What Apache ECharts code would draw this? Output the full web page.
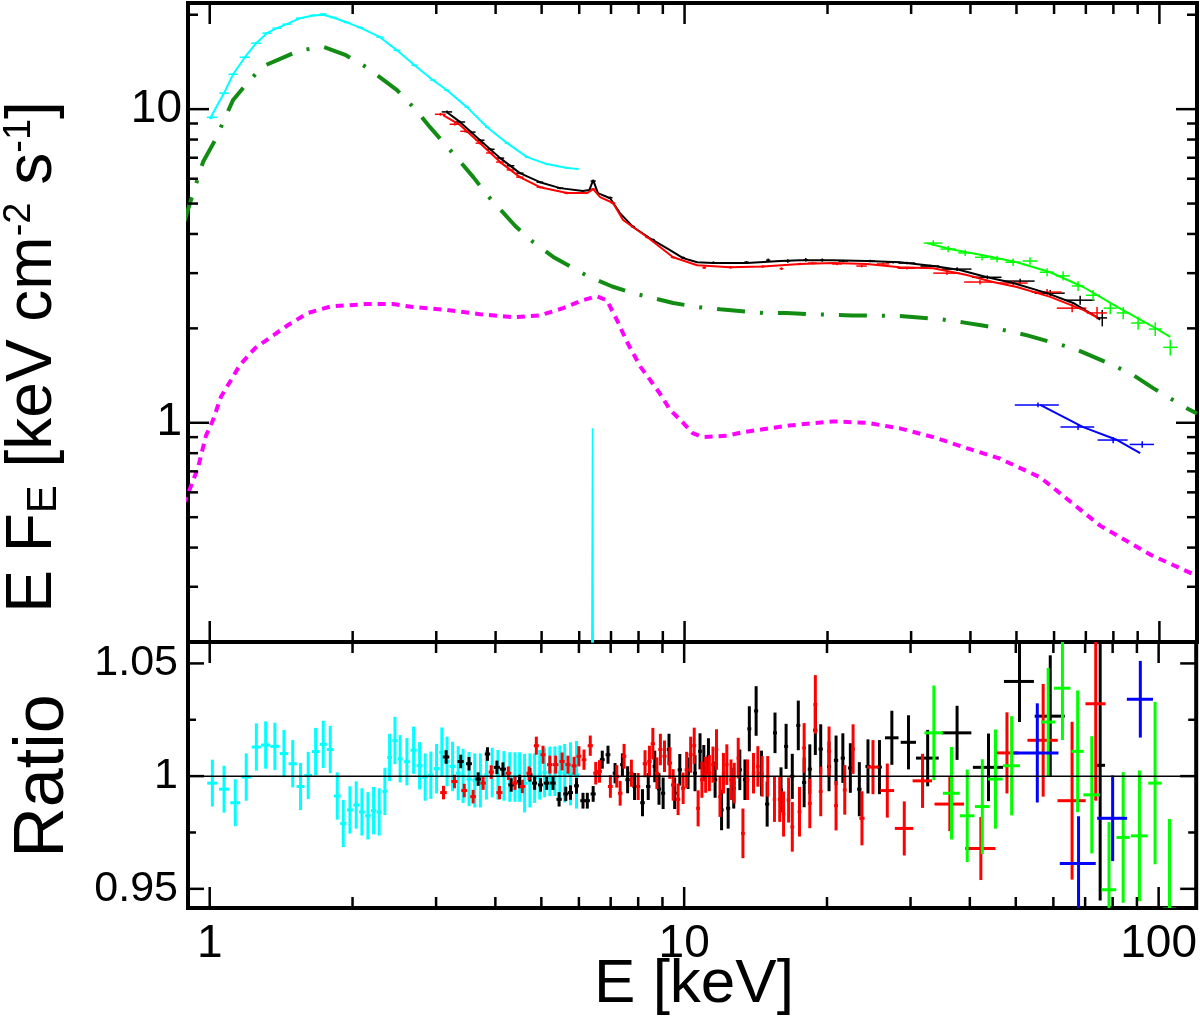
<!DOCTYPE html>
<html>
<head>
<meta charset="utf-8">
<script src="https://cdn.jsdelivr.net/npm/echarts@6.0.0/dist/echarts.min.js"></script>
<style>
html, body { margin: 0; padding: 0; background: #fff; }
#main { width: 1200px; height: 1020px; }
</style>
</head>
<body>
<div id="main"></div>
<script>
var FONT = 'Liberation Sans, Arial, Helvetica, sans-serif';

// tick values
var xMajor = [1, 10, 100];
var xMinor = [2, 3, 4, 5, 6, 7, 8, 9, 20, 30, 40, 50, 60, 70, 80, 90];
var yMajorTop = [1, 10];
var yMinorTop = [0.3, 0.4, 0.5, 0.6, 0.7, 0.8, 0.9, 2, 3, 4, 5, 6, 7, 8, 9, 20];
var yMajorRatio = [0.95, 1, 1.05];
var yMinorRatio = [0.975, 1.025];

// model curves  [E keV, E F_E]
var reflModel = [[0.88, 0.55], [0.909, 0.617], [0.945, 0.72], [0.982, 0.91], [1.016, 1.02], [1.056, 1.21], [1.109, 1.37],
  [1.158, 1.53], [1.246, 1.73], [1.347, 1.88], [1.462, 2.05], [1.61, 2.24], [1.8, 2.35], [2.13, 2.39], [2.43, 2.39],
  [2.68, 2.34], [3.16, 2.29], [3.71, 2.22], [4.36, 2.17], [4.96, 2.20], [5.55, 2.32], [6.11, 2.46], [6.53, 2.53],
  [6.86, 2.46], [7.21, 2.12], [7.58, 1.80], [8.07, 1.51], [8.46, 1.37], [8.87, 1.24], [9.32, 1.10], [9.93, 1.0],
  [10.4, 0.927], [10.9, 0.90], [12.3, 0.91], [13.3, 0.934], [16.6, 0.98], [20.5, 1.01], [24.2, 1.0], [28.4, 0.96],
  [33.4, 0.90], [39.3, 0.83], [46.0, 0.77], [56.1, 0.67], [75.0, 0.47], [95.6, 0.38], [120, 0.325]];

var contModel = [[0.88, 4.3], [0.968, 6.78], [1.026, 7.96], [1.12, 10.7], [1.199, 12.1], [1.295, 13.7], [1.427, 14.6],
  [1.549, 15.4], [1.733, 15.8], [1.928, 14.9], [2.14, 13.6], [2.48, 11.5], [2.71, 9.99], [2.91, 8.76], [3.32, 6.98],
  [3.59, 6.07], [3.84, 5.32], [4.40, 4.24], [4.80, 3.77], [5.29, 3.38], [6.26, 2.93], [7.04, 2.72], [7.79, 2.59],
  [9.46, 2.41], [10.63, 2.34], [11.88, 2.30], [14.63, 2.24], [16.4, 2.24], [18.4, 2.22], [22.5, 2.20], [28.4, 2.19],
  [34.5, 2.14], [38.6, 2.09], [43.4, 2.03], [52.7, 1.90], [58.9, 1.81], [65.8, 1.73], [79.6, 1.53], [88.1, 1.42],
  [97.0, 1.29], [115, 1.106], [120, 1.07]];

var cyanLine = [[6.36, 0.05], [6.40, 0.96], [6.44, 0.05]];

var cyanModel = [[1.0, 9.3], [1.072, 11.25], [1.12, 12.92], [1.186, 14.64], [1.252, 16.23], [1.32, 17.47], [1.385, 18.12],
  [1.453, 18.66], [1.549, 19.5], [1.651, 19.9], [1.733, 20.0], [1.82, 19.6], [1.946, 18.9], [2.073, 18.2], [2.284, 16.96],
  [2.48, 15.4], [2.7, 13.8], [2.953, 12.37], [3.16, 11.49], [3.48, 10.15], [3.84, 8.76], [4.23, 7.79], [4.66, 7.03],
  [5.13, 6.68], [5.66, 6.49], [5.94, 6.45]];

var blackModel = [[3.16, 9.78], [3.37, 9.09], [3.71, 7.96], [4.09, 6.98], [4.50, 6.25], [4.96, 5.85], [5.47, 5.60],
  [6.11, 5.48], [6.30, 5.52], [6.42, 5.94], [6.57, 5.40], [6.97, 5.20], [7.31, 4.66], [7.79, 4.21], [8.58, 3.82],
  [9.32, 3.55], [9.93, 3.35], [10.63, 3.25], [11.48, 3.23], [13.54, 3.23], [15.9, 3.28], [17.5, 3.30], [20.55, 3.30],
  [24.2, 3.28], [28.4, 3.25], [33.4, 3.16], [38.0, 3.07], [43.4, 2.91], [49.2, 2.79], [58.0, 2.59], [65.8, 2.41],
  [73.9, 2.17], [75.0, 2.13]];

var redModel = [[3.10, 9.57], [3.37, 8.89], [3.71, 7.79], [4.09, 6.78], [4.50, 6.07], [4.96, 5.64], [5.66, 5.40],
  [6.23, 5.40], [6.42, 5.56], [6.64, 5.24], [7.07, 5.02], [7.42, 4.43], [8.34, 3.91], [9.46, 3.37], [10.63, 3.18],
  [12.47, 3.13], [14.63, 3.15], [17.5, 3.21], [20.55, 3.23], [24.2, 3.21], [28.4, 3.13], [33.4, 3.11], [39.3, 2.96],
  [44.6, 2.81], [50.1, 2.71], [58.9, 2.52], [69.1, 2.29], [73.9, 2.17]];

var greenModel = [[32.4, 3.74], [36.2, 3.58], [42.5, 3.42], [50.1, 3.25], [58.9, 3.02], [69.1, 2.71], [81.5, 2.34],
  [95.6, 2.05], [105.4, 1.88]];

var blueModel = [[56.1, 1.14], [69.1, 0.969], [81.5, 0.881], [91.1, 0.80]];

// spectral data  [E, E F_E, dE, dF]
var cyanData = [[1.011, 9.42, 0.025, 0.1], [1.072, 11.25, 0.025, 0.1], [1.12, 12.92, 0.025, 0.1], [1.186, 14.64, 0.03, 0.1],
  [1.252, 16.23, 0.03, 0.1], [1.32, 17.47, 0.03, 0.1], [1.385, 18.12, 0.03, 0.1], [1.453, 18.66, 0.03, 0.1],
  [1.549, 19.5, 0.03, 0.1], [1.651, 19.9, 0.03, 0.1], [1.733, 20.1, 0.03, 0.1], [1.82, 19.6, 0.03, 0.1],
  [1.946, 18.9, 0.03, 0.1], [2.073, 18.2, 0.03, 0.1], [2.284, 16.96, 0.04, 0.1], [2.48, 15.4, 0.04, 0.1],
  [2.7, 13.8, 0.04, 0.1], [2.953, 12.37, 0.04, 0.08], [3.16, 11.49, 0.04, 0.08], [3.48, 10.15, 0.04, 0.07],
  [3.84, 8.76, 0.04, 0.06], [4.23, 7.79, 0.05, 0.05], [4.66, 7.03, 0.05, 0.05], [5.13, 6.68, 0.05, 0.05],
  [5.66, 6.49, 0.06, 0.05], [5.94, 6.45, 0.06, 0.05]];

var blackData = [[3.16, 9.80, 0.08, 0.1], [3.37, 9.10, 0.08, 0.08], [3.55, 8.45, 0.08, 0.08], [3.71, 7.96, 0.08, 0.07],
  [3.90, 7.45, 0.08, 0.06], [4.09, 6.98, 0.08, 0.06], [4.30, 6.60, 0.08, 0.05], [4.50, 6.25, 0.08, 0.05],
  [4.96, 5.85, 0.08, 0.05], [5.47, 5.60, 0.08, 0.05], [6.42, 5.90, 0.08, 0.05], [6.97, 5.22, 0.08, 0.05],
  [7.79, 4.22, 0.08, 0.04], [8.58, 3.83, 0.08, 0.04], [9.93, 3.36, 0.1, 0.03], [11.5, 3.24, 0.1, 0.03],
  [13.5, 3.25, 0.15, 0.03], [15.0, 3.30, 0.15, 0.04], [16.5, 3.28, 0.2, 0.04], [18.0, 3.31, 0.2, 0.04],
  [19.5, 3.30, 0.2, 0.04], [21.6, 3.28, 0.5, 0.03], [24.6, 3.28, 0.6, 0.03], [27.5, 3.25, 0.9, 0.03],
  [29.4, 3.23, 1.2, 0.03], [32.9, 3.16, 1.5, 0.03], [37.5, 3.09, 2.7, 0.04], [43.4, 2.91, 3.1, 0.04],
  [50.9, 2.83, 3.7, 0.05], [58.9, 2.59, 4.3, 0.06], [68.1, 2.46, 4.9, 0.08], [75.8, 2.16, 1.8, 0.13]];

var redData = [[3.06, 9.63, 0.08, 0.1], [3.28, 8.95, 0.08, 0.08], [3.45, 8.50, 0.08, 0.08], [3.71, 7.79, 0.08, 0.07],
  [3.90, 7.25, 0.08, 0.06], [4.09, 6.78, 0.08, 0.06], [4.30, 6.40, 0.08, 0.05], [4.50, 6.07, 0.08, 0.05],
  [4.96, 5.64, 0.08, 0.05], [5.66, 5.40, 0.08, 0.05], [6.42, 5.56, 0.08, 0.05], [7.07, 5.02, 0.08, 0.05],
  [8.34, 3.91, 0.08, 0.04], [9.46, 3.37, 0.1, 0.03], [11.0, 3.12, 0.1, 0.03], [12.5, 3.13, 0.12, 0.03],
  [14.6, 3.15, 0.15, 0.03], [16.0, 3.10, 0.15, 0.03], [17.5, 3.21, 0.2, 0.03], [18.6, 3.23, 0.4, 0.03],
  [20.96, 3.21, 0.5, 0.03], [23.6, 3.16, 0.6, 0.03], [26.2, 3.21, 0.8, 0.03], [29.4, 3.11, 1.3, 0.03],
  [35.7, 3.00, 2.3, 0.04], [41.9, 2.81, 3.1, 0.05], [49.2, 2.79, 3.6, 0.05], [58.0, 2.61, 4.2, 0.06],
  [65.5, 2.32, 4.7, 0.07], [73.9, 2.24, 3.6, 0.1]];

var greenData = [[33.4, 3.74, 1.5, 0.08], [35.9, 3.58, 1.3, 0.08], [39.0, 3.48, 1.3, 0.08], [42.3, 3.37, 1.4, 0.08],
  [45.5, 3.33, 1.5, 0.08], [49.2, 3.25, 1.8, 0.09], [53.4, 3.28, 1.9, 0.09], [58.0, 3.02, 2.0, 0.09],
  [62.7, 2.94, 2.1, 0.1], [67.4, 2.73, 2.0, 0.1], [72.5, 2.55, 2.5, 0.1], [78.8, 2.32, 2.5, 0.1],
  [83.9, 2.24, 2.6, 0.1], [90.2, 2.08, 3.0, 0.1], [98.0, 1.99, 3.0, 0.1], [105.4, 1.74, 3.5, 0.1]];

var blueData = [[55.5, 1.14, 5.9, 0.02], [67.4, 0.969, 5.5, 0.02], [79.9, 0.881, 5.8, 0.02], [92.0, 0.853, 5.4, 0.02]];

// ratio data  [E, ratio, dE, dRatio]
var cyanRatio = [[1.013, 0.9969, 0.025, 0.0104], [1.072, 0.9942, 0.026, 0.0104], [1.132, 0.9882, 0.027, 0.0104],
  [1.194, 0.9996, 0.028, 0.0105], [1.254, 1.0129, 0.028, 0.0105], [1.312, 1.0138, 0.029, 0.0105],
  [1.372, 1.0132, 0.03, 0.0105], [1.434, 1.0100, 0.03, 0.0105], [1.496, 1.0055, 0.03, 0.0105],
  [1.554, 0.9954, 0.03, 0.0105], [1.613, 1.0003, 0.03, 0.0105], [1.672, 1.0109, 0.03, 0.0105],
  [1.735, 1.0141, 0.03, 0.0105], [1.795, 1.0118, 0.03, 0.0105], [1.857, 0.9912, 0.03, 0.0105],
  [1.912, 0.9790, 0.028, 0.0105], [1.975, 0.9850, 0.028, 0.0105], [2.036, 0.9872, 0.028, 0.0105],
  [2.093, 0.9841, 0.028, 0.0105], [2.155, 0.9824, 0.028, 0.0105], [2.215, 0.9847, 0.028, 0.0105],
  [2.276, 0.9841, 0.028, 0.0105], [2.34, 0.9932, 0.028, 0.0105], [2.394, 1.0083, 0.028, 0.0105],
  [2.457, 1.0158, 0.03, 0.0105], [2.52, 1.0077, 0.03, 0.0105], [2.604, 1.0064, 0.04, 0.0105],
  [2.69, 1.0115, 0.04, 0.0105], [2.769, 1.0046, 0.04, 0.0105], [2.845, 0.9996, 0.04, 0.0105],
  [2.925, 1.0004, 0.04, 0.0105], [3.007, 1.0033, 0.04, 0.011], [3.085, 1.0106, 0.04, 0.011],
  [3.164, 1.0065, 0.04, 0.011], [3.25, 1.0043, 0.04, 0.011], [3.34, 1.0013, 0.04, 0.012],
  [3.42, 1.0001, 0.04, 0.012], [3.52, 0.9987, 0.04, 0.012], [3.62, 0.9981, 0.04, 0.012],
  [3.72, 0.9981, 0.04, 0.012], [3.83, 1.0006, 0.04, 0.011], [3.94, 1.0016, 0.04, 0.011],
  [4.05, 1.0006, 0.04, 0.011], [4.17, 1.0001, 0.04, 0.011], [4.29, 0.9996, 0.05, 0.011],
  [4.40, 0.9996, 0.05, 0.011], [4.50, 0.9996, 0.05, 0.011], [4.61, 0.9969, 0.05, 0.013],
  [4.73, 0.9981, 0.05, 0.012], [4.84, 0.9991, 0.05, 0.011], [4.96, 1.0006, 0.05, 0.011],
  [5.08, 1.0016, 0.05, 0.011], [5.21, 1.0021, 0.05, 0.011], [5.34, 1.0022, 0.05, 0.011],
  [5.47, 1.0016, 0.06, 0.012], [5.60, 1.0013, 0.06, 0.013], [5.76, 1.001, 0.07, 0.014],
  [5.93, 1.0006, 0.07, 0.015]];

var blackRatio = [[3.15, 1.0085, 0.05, 0.003], [3.38, 1.0065, 0.05, 0.003], [3.52, 1.0055, 0.05, 0.003],
  [3.68, 0.9987, 0.05, 0.003], [3.85, 1.0098, 0.05, 0.003], [4.03, 1.0039, 0.06, 0.003], [4.15, 1.0031, 0.06, 0.003],
  [4.32, 0.9961, 0.06, 0.003], [4.50, 0.9976, 0.06, 0.003], [4.73, 1.0006, 0.06, 0.003], [4.84, 0.9969, 0.06, 0.003],
  [4.98, 0.9961, 0.06, 0.003], [5.13, 0.9969, 0.07, 0.003], [5.29, 0.9969, 0.07, 0.003], [5.45, 0.9897, 0.07, 0.0032],
  [5.63, 0.9921, 0.07, 0.0032], [5.76, 0.9927, 0.07, 0.0032], [5.93, 0.9957, 0.07, 0.0035], [6.12, 0.9891, 0.08, 0.0035],
  [6.25, 0.9891, 0.08, 0.0035], [6.43, 0.9921, 0.08, 0.0035], [6.72, 1.0073, 0.08, 0.004], [6.91, 1.0095, 0.08, 0.004],
  [7.15, 1.0013, 0.08, 0.0045], [7.41, 1.0051, 0.08, 0.005], [7.60, 0.9984, 0.08, 0.006], [7.86, 0.9954, 0.08, 0.006],
  [8.17, 0.9882, 0.09, 0.006], [8.40, 0.9954, 0.09, 0.006], [8.67, 1.0043, 0.09, 0.007], [8.85, 0.9943, 0.09, 0.007],
  [9.03, 0.9924, 0.09, 0.007], [9.29, 1.0118, 0.1, 0.007], [9.55, 0.9924, 0.1, 0.007], [9.79, 1.0028, 0.1, 0.007],
  [10.19, 1.0013, 0.1, 0.007], [10.54, 1.0013, 0.1, 0.008], [10.80, 1.0110, 0.1, 0.008], [11.0, 1.0058, 0.1, 0.008],
  [11.25, 1.0088, 0.1, 0.008], [11.62, 0.9984, 0.12, 0.008], [11.99, 0.985, 0.12, 0.009], [12.38, 0.9857, 0.12, 0.009],
  [12.72, 0.9946, 0.12, 0.009], [13.1, 1.0028, 0.13, 0.009], [13.43, 0.9984, 0.13, 0.009], [13.72, 1.021, 0.13, 0.01],
  [14.18, 1.0289, 0.14, 0.011], [14.55, 1.0013, 0.14, 0.01], [14.96, 0.9876, 0.15, 0.01], [15.54, 1.0192, 0.15, 0.009],
  [16.0, 0.9939, 0.16, 0.01], [16.4, 1.0132, 0.16, 0.01], [16.9, 0.9999, 0.17, 0.01], [17.4, 1.0225, 0.17, 0.011],
  [17.9, 0.9972, 0.18, 0.011], [18.4, 1.0031, 0.18, 0.011], [18.9, 1.0204, 0.19, 0.011], [19.4, 1.012, 0.2, 0.011],
  [20.2, 1.0043, 0.2, 0.011], [20.9, 1.007, 0.22, 0.011], [21.6, 1.008, 0.22, 0.011], [22.4, 1.0036, 0.25, 0.011],
  [23.4, 0.9942, 0.25, 0.012], [24.4, 1.0043, 0.3, 0.012], [25.8, 1.004, 0.3, 0.012], [27.4, 1.017, 0.9, 0.012],
  [29.7, 1.015, 1.1, 0.012], [32.6, 1.008, 1.8, 0.0125], [37.6, 1.0192, 2.7, 0.012], [43.8, 1.0039, 3.2, 0.015],
  [50.9, 1.042, 3.7, 0.018], [59.1, 1.0266, 4.3, 0.027], [75.3, 1.0048, 1.8, 0.06]];

var redRatio = [[3.11, 0.9927, 0.05, 0.003], [3.28, 0.9976, 0.05, 0.003], [3.44, 0.9936, 0.05, 0.003],
  [3.59, 0.9909, 0.05, 0.003], [3.77, 0.9969, 0.05, 0.003], [3.92, 1.0018, 0.05, 0.003], [4.08, 0.9927, 0.06, 0.003],
  [4.26, 1.0013, 0.06, 0.003], [4.40, 0.9969, 0.06, 0.003], [4.56, 0.9954, 0.06, 0.003], [4.71, 1.0013, 0.06, 0.003],
  [4.88, 1.0135, 0.06, 0.004], [5.04, 1.0095, 0.06, 0.004], [5.21, 1.0051, 0.07, 0.004], [5.36, 1.0051, 0.07, 0.004],
  [5.53, 1.0065, 0.07, 0.004], [5.69, 1.0051, 0.07, 0.004], [5.86, 1.0046, 0.07, 0.004], [6.00, 1.0088, 0.07, 0.0045],
  [6.15, 1.0073, 0.07, 0.0045], [6.34, 1.0135, 0.08, 0.0045], [6.51, 1.0013, 0.08, 0.005], [6.63, 1.0021, 0.08, 0.005],
  [6.99, 0.9954, 0.08, 0.005], [7.21, 0.9999, 0.08, 0.005], [7.33, 0.9924, 0.08, 0.0055], [7.47, 1.0088, 0.08, 0.0055],
  [7.74, 1.0013, 0.08, 0.006], [8.0, 0.9954, 0.08, 0.006], [8.27, 1.0055, 0.09, 0.006], [8.45, 1.0065, 0.09, 0.007],
  [8.59, 1.0144, 0.09, 0.007], [8.76, 1.0013, 0.09, 0.007], [8.91, 1.0118, 0.09, 0.007], [9.09, 1.0088, 0.09, 0.007],
  [9.33, 1.0058, 0.1, 0.007], [9.48, 0.9961, 0.1, 0.007], [9.71, 0.9897, 0.1, 0.007], [9.95, 0.9946, 0.1, 0.007],
  [10.12, 1.0028, 0.1, 0.008], [10.32, 1.0095, 0.1, 0.008], [10.5, 1.0135, 0.1, 0.008], [10.7, 0.9857, 0.1, 0.008],
  [10.9, 0.9984, 0.1, 0.008], [11.1, 1.0006, 0.1, 0.008], [11.3, 1.0013, 0.1, 0.008], [11.5, 1.0051, 0.1, 0.008],
  [11.7, 1.0118, 0.1, 0.009], [11.9, 0.9909, 0.1, 0.009], [12.1, 1.0013, 0.1, 0.009], [12.3, 1.0051, 0.1, 0.009],
  [12.55, 0.9984, 0.1, 0.009], [12.75, 0.9969, 0.1, 0.009], [13.0, 1.008, 0.1, 0.009], [13.3, 0.9746, 0.12, 0.011],
  [13.6, 0.9984, 0.12, 0.009], [14.0, 1.0013, 0.12, 0.009], [14.3, 1.0043, 0.12, 0.009], [14.6, 0.9999, 0.12, 0.009],
  [15.0, 0.9999, 0.13, 0.009], [15.5, 0.9897, 0.13, 0.01], [15.9, 0.9897, 0.14, 0.01], [16.2, 0.9832, 0.14, 0.01],
  [16.6, 0.9894, 0.15, 0.01], [16.9, 0.9775, 0.15, 0.011], [17.5, 0.9842, 0.16, 0.011], [17.9, 1.0125, 0.16, 0.011],
  [18.4, 0.9879, 0.17, 0.011], [18.9, 1.0318, 0.17, 0.013], [19.4, 0.9932, 0.18, 0.011], [20.2, 1.011, 0.2, 0.011],
  [20.9, 0.9869, 0.2, 0.011], [21.8, 0.9939, 0.2, 0.011], [22.7, 1.012, 0.2, 0.011], [23.7, 0.9813, 0.3, 0.012],
  [25.0, 1.004, 0.7, 0.012], [26.8, 0.9936, 0.9, 0.012], [29.1, 0.9768, 1.3, 0.012], [31.8, 0.9979, 1.5, 0.012],
  [36.3, 0.9876, 2.6, 0.012], [42.2, 0.9679, 3.1, 0.014], [47.9, 1.0103, 2.8, 0.018], [57.1, 1.0159, 4.2, 0.025],
  [65.7, 0.9891, 4.5, 0.035], [73.7, 1.0321, 3.6, 0.043]];

var greenRatio = [[33.6, 1.0192, 1.5, 0.021], [36.6, 0.9924, 1.5, 0.0205], [39.5, 0.9824, 1.4, 0.0205],
  [42.5, 0.9865, 1.5, 0.021], [45.3, 0.9987, 1.6, 0.022], [49.0, 1.0046, 2.0, 0.022], [58.5, 1.024, 2.0, 0.024],
  [62.7, 1.039, 2.5, 0.023], [67.5, 1.011, 2.0, 0.027], [72.3, 0.9917, 2.9, 0.026], [78.6, 0.9496, 2.8, 0.03],
  [84.2, 0.9728, 2.7, 0.029], [91.1, 0.9735, 3.7, 0.029], [98.3, 0.9969, 3.2, 0.036], [105.4, 0.941, 3.4, 0.04]];

var blueRatio = [[55.5, 1.0103, 6.0, 0.022], [67.8, 0.9612, 5.9, 0.021], [80.0, 0.9813, 5.8, 0.019],
  [91.5, 1.0341, 5.8, 0.017]];

var unity = [[0.9, 1], [120, 1]];

var myChart = echarts.init(document.getElementById('main'));

function modelLine(data, color, width, type) {
    return {
        type: 'line', xAxisIndex: 0, yAxisIndex: 0, data: data,
        showSymbol: false, symbol: 'none', silent: true, clip: true,
        lineStyle: { color: color, width: width, type: type || 'solid', cap: 'butt' }
    };
}

// error-bar crosses: [x, y, dx, dy]
function crosses(data, color, width, gi) {
    return {
        type: 'custom', xAxisIndex: gi, yAxisIndex: gi, data: data, clip: true, silent: true,
        encode: { x: 0, y: 1 },
        renderItem: function (params, api) {
            var x = api.value(0), y = api.value(1), dx = api.value(2), dy = api.value(3);
            var a = api.coord([x - dx, y]), b = api.coord([x + dx, y]);
            var c = api.coord([x, y - dy]), d = api.coord([x, y + dy]);
            var st = { stroke: color, lineWidth: width };
            return {
                type: 'group', children: [
                    { type: 'line', shape: { x1: a[0], y1: a[1], x2: b[0], y2: b[1] }, style: st },
                    { type: 'line', shape: { x1: c[0], y1: c[1], x2: d[0], y2: d[1] }, style: st }
                ]
            };
        }
    };
}

// ticks on the x axis, drawn on top and bottom of a panel
function xTicks(gi, refY, major, minor) {
    var data = xMajor.map(function (v) { return [v, refY, 1]; })
        .concat(xMinor.map(function (v) { return [v, refY, 0]; }));
    return {
        type: 'custom', xAxisIndex: gi, yAxisIndex: gi, data: data, silent: true, z: 10,
        encode: { x: 0, y: 1 },
        renderItem: function (params, api) {
            var cs = params.coordSys;
            var px = api.coord([api.value(0), api.value(1)])[0];
            var len = api.value(2) ? major : minor;
            var st = { stroke: '#000', lineWidth: 2.5 };
            return {
                type: 'group', children: [
                    { type: 'line', shape: { x1: px, y1: cs.y, x2: px, y2: cs.y + len }, style: st },
                    { type: 'line', shape: { x1: px, y1: cs.y + cs.height, x2: px, y2: cs.y + cs.height - len }, style: st }
                ]
            };
        }
    };
}

// ticks on the y axis, drawn on left and right of a panel
function yTicks(gi, refX, majVals, minVals, major, minor) {
    var data = majVals.map(function (v) { return [refX, v, 1]; })
        .concat(minVals.map(function (v) { return [refX, v, 0]; }));
    return {
        type: 'custom', xAxisIndex: gi, yAxisIndex: gi, data: data, silent: true, z: 10,
        encode: { x: 0, y: 1 },
        renderItem: function (params, api) {
            var cs = params.coordSys;
            var py = api.coord([api.value(0), api.value(1)])[1];
            var len = api.value(2) ? major : minor;
            var st = { stroke: '#000', lineWidth: 2.5 };
            return {
                type: 'group', children: [
                    { type: 'line', shape: { x1: cs.x, y1: py, x2: cs.x + len, y2: py }, style: st },
                    { type: 'line', shape: { x1: cs.x + cs.width, y1: py, x2: cs.x + cs.width - len, y2: py }, style: st }
                ]
            };
        }
    };
}

var option = {
    animation: false,
    backgroundColor: '#fff',
    textStyle: { fontFamily: FONT },
    grid: [
        { left: 188, top: 3, width: 1009, height: 639, show: true, borderColor: '#000', borderWidth: 4, backgroundColor: 'transparent' },
        { left: 188, top: 642, width: 1009, height: 266, show: true, borderColor: '#000', borderWidth: 4, backgroundColor: 'transparent' }
    ],
    xAxis: [
        { gridIndex: 0, type: 'log', logBase: 10, min: 0.9, max: 120,
          axisLine: { show: false }, axisTick: { show: false }, axisLabel: { show: false }, splitLine: { show: false } },
        { gridIndex: 1, type: 'log', logBase: 10, min: 0.9, max: 120,
          axisLine: { show: false }, axisTick: { show: false }, splitLine: { show: false },
          axisLabel: { customValues: xMajor, color: '#000', fontSize: 46, fontFamily: FONT, margin: 13 } }
    ],
    yAxis: [
        { gridIndex: 0, type: 'log', logBase: 10, min: 0.2, max: 21.8,
          axisLine: { show: false }, axisTick: { show: false }, splitLine: { show: false },
          axisLabel: { customValues: yMajorTop, color: '#000', fontSize: 46, fontFamily: FONT, margin: 6 } },
        { gridIndex: 1, type: 'value', min: 0.9415, max: 1.0595,
          axisLine: { show: false }, axisTick: { show: false }, splitLine: { show: false },
          axisLabel: { customValues: yMajorRatio, color: '#000', fontSize: 43, fontFamily: FONT, margin: 10,
                       formatter: function (v) { return v === 1 ? '1' : v.toFixed(2); } } }
    ],
    graphic: [
        { type: 'text', x: 33, y: 357, rotation: Math.PI / 2, silent: true,
          style: { text: '{m|E F}{s|E}{m| [keV cm}{p|-2}{m| s}{p|-1}{m|]}', align: 'center', verticalAlign: 'middle',
                   rich: { m: { fontSize: 64, fontFamily: FONT, fill: '#000' },
                           s: { fontSize: 42, fontFamily: FONT, fill: '#000', verticalAlign: 'bottom' },
                           p: { fontSize: 38, fontFamily: FONT, fill: '#000', verticalAlign: 'top' } } } },
        { type: 'text', x: 44, y: 776, rotation: Math.PI / 2, silent: true,
          style: { text: 'Ratio', fontSize: 70, fontFamily: FONT, fill: '#000', align: 'center', verticalAlign: 'middle' } },
        { type: 'text', x: 694, y: 985, silent: true,
          style: { text: 'E [keV]', fontSize: 62, fontFamily: FONT, fill: '#000', align: 'center', verticalAlign: 'middle' } }
    ],
    series: [
        modelLine(reflModel, '#ff00ff', 4, [8, 6]),
        modelLine(contModel, '#138c13', 4, [28, 15, 3, 15]),
        modelLine(cyanLine, '#00ffff', 1.5),
        modelLine(cyanModel, '#00ffff', 2),
        crosses(cyanData, '#00ffff', 1.5, 0),
        modelLine(blackModel, '#000000', 2),
        crosses(blackData, '#000000', 1.5, 0),
        modelLine(redModel, '#ff0000', 2),
        crosses(redData, '#ff0000', 1.5, 0),
        modelLine(greenModel, '#00ff00', 2),
        crosses(greenData, '#00ff00', 1.5, 0),
        modelLine(blueModel, '#0000ff', 2),
        crosses(blueData, '#0000ff', 1.5, 0),
        xTicks(0, 1, 21, 11),
        yTicks(0, 1, yMajorTop, yMinorTop, 21, 10),
        { type: 'line', xAxisIndex: 1, yAxisIndex: 1, data: unity, showSymbol: false, symbol: 'none', silent: true,
          lineStyle: { color: '#000', width: 1.5 } },
        crosses(cyanRatio, '#00ffff', 3, 1),
        crosses(blackRatio, '#000000', 3, 1),
        crosses(redRatio, '#ff0000', 3, 1),
        crosses(greenRatio, '#00ff00', 3, 1),
        crosses(blueRatio, '#0000ff', 3, 1),
        xTicks(1, 1, 21, 11),
        yTicks(1, 1, yMajorRatio, yMinorRatio, 16, 8)
    ]
};
myChart.setOption(option);
</script>
</body>
</html>
